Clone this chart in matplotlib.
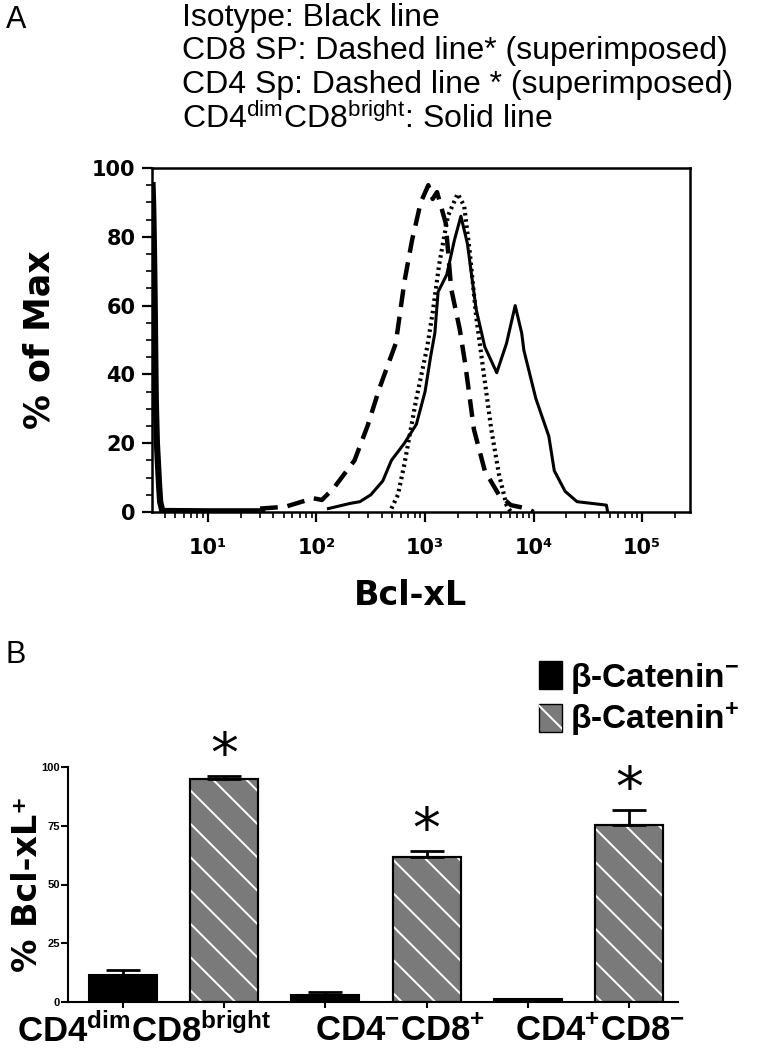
import numpy as np
import matplotlib
matplotlib.use('Agg')
import matplotlib.pyplot as plt
from matplotlib import font_manager
from matplotlib.patches import Patch
from matplotlib.legend_handler import HandlerTuple

# fonts: narrow bold for panel B if the system has it
names = {f.name for f in font_manager.fontManager.ttflist}
narrow = 'Liberation Sans Narrow' if 'Liberation Sans Narrow' in names else 'Liberation Sans'

plt.rcParams['font.family'] = ['Liberation Sans', 'DejaVu Sans']
plt.rcParams['mathtext.fontset'] = 'custom'
plt.rcParams['mathtext.rm'] = 'Liberation Sans'
plt.rcParams['mathtext.bf'] = narrow + ':bold'
plt.rcParams['mathtext.default'] = 'regular'
plt.rcParams['hatch.linewidth'] = 1.4

# ---- panel A: histogram curves (log10 of Bcl-xL, % of max) ----
iso_logx = [0.49, 0.495, 0.50, 0.505, 0.51, 0.515, 0.52, 0.53, 0.54, 0.55, 0.56, 0.58, 1.0, 1.5]
iso_y = [95, 90, 82, 72, 60, 45, 32, 20, 14, 8, 3, 0.3, 0.2, 0.2]

dash_logx = [1.48, 1.71, 1.97, 2.05, 2.16, 2.35, 2.47, 2.58, 2.73, 2.81, 2.88, 2.96, 3.03,
             3.07, 3.11, 3.19, 3.24, 3.32, 3.37, 3.45, 3.55, 3.68, 3.79, 3.94, 4.0]
dash_y = [1, 1.5, 4, 3.5, 7, 15, 25, 36, 49, 67, 79, 90, 95,
          91, 93, 84, 65, 53, 43, 24, 12, 5, 2, 1, 0]

dot_logx = [2.69, 2.75, 2.81, 2.92, 3.02, 3.07, 3.13, 3.21, 3.30, 3.36, 3.41, 3.47, 3.55,
            3.61, 3.68, 3.75, 3.79]
dot_y = [1, 5, 14, 33, 48, 58, 72, 86, 92.5, 89, 76, 57, 38,
         24, 11, 2, 0]

solid_logx = [2.11, 2.31, 2.40, 2.50, 2.61, 2.69, 2.81, 2.92, 3.00, 3.05, 3.09, 3.12, 3.20,
              3.27, 3.33, 3.39, 3.47, 3.55, 3.66, 3.75, 3.83, 3.89, 3.91, 4.02, 4.14,
              4.19, 4.29, 4.40, 4.67, 4.68]
solid_y = [1, 2.5, 3, 5, 9, 15, 20, 25.5, 35, 45, 52, 64, 69,
           79, 86, 78, 59, 48, 40.5, 49, 60, 52, 47, 33, 22,
           12, 6, 3, 2, 0.3]

header = ['Isotype: Black line',
          'CD8 SP: Dashed line* (superimposed)',
          'CD4 Sp: Dashed line * (superimposed)',
          'CD4$^{dim}$CD8$^{bright}$: Solid line']

# ---- panel B: % Bcl-xL+ ----
groups = [r'$\mathbf{CD4^{dim}CD8^{bright}}$', r'$\mathbf{CD4^{-}CD8^{+}}$', r'$\mathbf{CD4^{+}CD8^{-}}$']
group_label_left = [17, 315, 515]   # left edge of each group label, px
neg_vals = [11.5, 3.0, 1.2]
neg_err = [2.3, 1.4, 0.0]
pos_vals = [94.8, 61.5, 75.3]
pos_err = [1.3, 2.8, 6.5]
b_yticks = [0, 25, 50, 75, 100]

W, H = 760, 1050
fig = plt.figure(figsize=(W / 100, H / 100), dpi=100)


def rect(l, t, r, b):
    return [l / W, 1 - b / H, (r - l) / W, (b - t) / H]


# header text
fig.text(6 / W, 1 - 20 / H, 'A', fontsize=22, va='center', ha='left')
for i, line in enumerate(header):
    fig.text(182 / W, 1 - (18 + 33.5 * i) / H, line, fontsize=23, va='center', ha='left')

axA = fig.add_axes(rect(152, 168, 690, 512))
axA.set_xscale('log')
axA.plot(10 ** np.array(iso_logx), iso_y, color='black', lw=4.5, solid_joinstyle='round')
axA.plot(10 ** np.array(dash_logx), dash_y, color='black', lw=3.2, linestyle=(0, (4, 2.2)))
axA.plot(10 ** np.array(dot_logx), dot_y, color='black', lw=3.0, linestyle=(0, (0.6, 0.9)))
axA.plot(10 ** np.array(solid_logx), solid_y, color='black', lw=2.2)
axA.set_xlim(10 ** 0.485, 10 ** 5.44)
axA.set_ylim(0, 100)
axA.set_yticks(range(0, 101, 20))
axA.set_yticks(range(0, 101, 5), minor=True)
axA.set_xticks([10, 100, 1000, 10000, 100000])
axA.set_xticklabels(['10¹', '10²', '10³', '10⁴', '10⁵'])
for lab in axA.get_yticklabels() + axA.get_xticklabels():
    lab.set_family('DejaVu Sans')
    lab.set_weight('bold')
    lab.set_fontsize(15)
axA.tick_params(which='major', length=7, width=1.6, direction='out', pad=5)
axA.tick_params(which='minor', length=4, width=1.2, direction='out')
axA.tick_params(axis='x', which='major', pad=12)
for s in axA.spines.values():
    s.set_linewidth(1.8)
axA.set_ylabel('% of Max', family='DejaVu Sans', weight='bold', fontsize=25)
axA.yaxis.set_label_coords(-0.177, 0.5)
axA.set_xlabel('Bcl-xL', family='DejaVu Sans', weight='bold', fontsize=24)
axA.xaxis.set_label_coords(0.48, -0.195)

# ---- panel B ----
fig.text(6 / W, 1 - 655 / H, 'B', fontsize=22, va='center', ha='left')
axB = fig.add_axes(rect(68, 767, 678, 1002))
x = np.arange(len(groups))
wb = 0.335
axB.bar(x - 0.25, neg_vals, wb, color='black', edgecolor='black', lw=1.5)
axB.errorbar(x - 0.25, neg_vals, yerr=[np.zeros(3), neg_err], fmt='none', ecolor='black',
             elinewidth=2, capsize=12, capthick=2)
axB.bar(x + 0.25, pos_vals, wb, color='#7a7a7a', edgecolor='black', lw=1.5)
axB.bar(x + 0.25, pos_vals, wb, fill=False, hatch='\\', edgecolor='white', lw=0)
axB.bar(x + 0.25, pos_vals, wb, fill=False, edgecolor='black', lw=1.5)
axB.errorbar(x + 0.25, pos_vals, yerr=[np.zeros(3), pos_err], fmt='none', ecolor='black',
             elinewidth=2, capsize=12, capthick=2)
for xi, v, e in zip(x + 0.25, pos_vals, pos_err):
    axB.annotate('*', (xi, v + e), xytext=(0, -6), textcoords='offset points',
                 ha='center', va='bottom', fontsize=40, family='DejaVu Sans')
axB.set_xlim(-0.52, 2.49)
axB.set_ylim(0, 100)
axB.set_yticks(b_yticks)
axB.set_yticklabels([str(t) for t in b_yticks], family=narrow, weight='bold', fontsize=8)
axB.set_xticks(np.concatenate([x - 0.25, x + 0.25]))
axB.set_xticklabels([])
axB.tick_params(axis='y', length=5, width=1.5, pad=1)
axB.tick_params(axis='x', length=4, width=1.5)
axB.spines['top'].set_visible(False)
axB.spines['right'].set_visible(False)
axB.spines['left'].set_linewidth(1.5)
axB.spines['bottom'].set_linewidth(1.5)
for px, lab in zip(group_label_left, groups):
    fig.text(px / W, 1 - 1014 / H, lab, ha='left', va='top', fontsize=25)
axB.set_ylabel('% Bcl-xL⁺', family='DejaVu Sans', weight='bold', fontsize=24)
axB.yaxis.set_label_coords(-0.04, 0.5)

handles = [Patch(facecolor='black', edgecolor='black'),
           (Patch(facecolor='#7a7a7a', edgecolor='black'),
            Patch(fill=False, hatch='\\', edgecolor='white', lw=0))]
fig.legend(handles, [r'$\mathbf{\beta}$-Catenin$^{\mathbf{-}}$', r'$\mathbf{\beta}$-Catenin$^{\mathbf{+}}$'],
           handler_map={tuple: HandlerTuple(ndivide=1, pad=0)},
           loc='upper left', bbox_to_anchor=(522 / W, 1 - 644 / H), frameon=False,
           prop={'family': narrow, 'weight': 'bold', 'size': 24},
           handlelength=0.7, handleheight=0.9, handletextpad=0.25, labelspacing=0.15,
           borderpad=0)

fig.savefig('out.png', dpi=100)
